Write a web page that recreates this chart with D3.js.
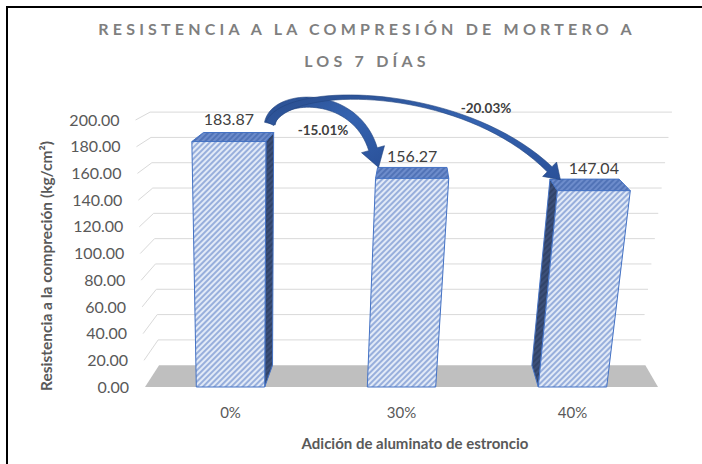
<!DOCTYPE html>
<html>
<head>
<meta charset="utf-8">
<script src="https://cdn.jsdelivr.net/npm/d3@7"></script>
<style>
  html, body { margin: 0; padding: 0; background: #fff; }
</style>
</head>
<body>
<div id="chart"></div>
<script>
const categories = ["0%", "30%", "40%"];
const values = [183.87, 156.27, 147.04];
const yTicks = [0, 20, 40, 60, 80, 100, 120, 140, 160, 180, 200];
const changes = [
  { from: 0, to: 1, label: "-15.01%" },
  { from: 0, to: 2, label: "-20.03%" }
];

function drawChart() {
  const width = 702;
  const height = 464;
  const fontFamily = "Lato, 'Open Sans', sans-serif";
  const textColor = "#595959";
  const labelColor = "#404040";

  // pseudo 3D: front plane leans a bit, back plane pulled toward a vanishing point
  const vp = [415, -32];
  const depthK = 0.948;
  const lean = 0.09;
  const leanCx = 250;

  const y = d3.scaleLinear().domain([0, 200]).range([387, 120]);
  const x = d3.scaleBand().domain(categories).range([145, 658])
    .paddingInner(0.6).paddingOuter(0.3);

  function proj(u, v, z) {
    const t = (y(0) - y(v)) / (y(0) - y(200));
    const fx = u + (u - leanCx) * lean * t;
    const fy = y(v);
    const s = 1 - z * (1 - depthK);
    return [vp[0] + s * (fx - vp[0]), vp[1] + s * (fy - vp[1])];
  }

  const svg = d3.select("#chart").append("svg")
    .attr("width", width)
    .attr("height", height)
    .style("font-family", fontFamily);

  const defs = svg.append("defs");
  function hatch(id, bg, line) {
    const p = defs.append("pattern")
      .attr("id", id)
      .attr("patternUnits", "userSpaceOnUse")
      .attr("width", 4).attr("height", 4)
      .attr("patternTransform", "rotate(45)");
    p.append("rect").attr("width", 4).attr("height", 4).attr("fill", bg);
    p.append("line").attr("x1", 1).attr("y1", 0).attr("x2", 1).attr("y2", 4)
      .attr("stroke", line).attr("stroke-width", 1.1);
  }
  hatch("hFront", "#e2eaf7", "#5b7fc6");
  hatch("hTop", "#6d8ccb", "#3a5ea6");
  hatch("hSide", "#3d5079", "#27375a");

  const grad = defs.append("linearGradient").attr("id", "arrowGrad")
    .attr("x1", 0).attr("y1", 0).attr("x2", 1).attr("y2", 1);
  grad.append("stop").attr("offset", "0%").attr("stop-color", "#2a4e8f");
  grad.append("stop").attr("offset", "50%").attr("stop-color", "#3563b0");
  grad.append("stop").attr("offset", "100%").attr("stop-color", "#2a5199");

  // frame (only top and left edges show)
  svg.append("path")
    .attr("d", `M7,${height}V7H${width}`)
    .attr("fill", "none")
    .attr("stroke", "#000")
    .attr("stroke-width", 2);

  // Title
  const title = svg.append("text")
    .attr("text-anchor", "middle")
    .attr("fill", "#7f7f7f")
    .attr("font-size", 16)
    .attr("font-weight", "bold")
    .attr("letter-spacing", 4.2);
  title.append("tspan").attr("x", 367).attr("y", 35).text("RESISTENCIA A LA COMPRESIÓN DE MORTERO A");
  title.append("tspan").attr("x", 367).attr("y", 67).text("LOS 7 DÍAS");

  // Gridlines: side wall + back wall
  const line = d3.line();
  svg.append("g")
    .selectAll("path")
    .data(yTicks.filter(d => d > 0))
    .join("path")
    .attr("d", d => line([proj(145, d, 0), proj(145, d, 1), proj(650, d, 1)]))
    .attr("fill", "none")
    .attr("stroke", "#d9d9d9")
    .attr("stroke-width", 1);

  // Floor
  svg.append("path")
    .attr("d", line([proj(145, 0, 0), proj(658, 0, 0), proj(658, 0, 1), proj(145, 0, 1)]) + "Z")
    .attr("fill", "#bfbfbf");

  // Y tick labels
  svg.append("g")
    .selectAll("text")
    .data(yTicks)
    .join("text")
    .attr("x", d => proj(145, d, 0)[0] - 16)
    .attr("y", d => y(d))
    .attr("dy", "0.35em")
    .attr("text-anchor", "end")
    .attr("font-size", 16)
    .attr("fill", textColor)
    .text(d => d.toFixed(2));

  // Bars
  const bars = categories.map((c, i) => ({ cat: c, value: values[i], u0: x(c), u1: x(c) + x.bandwidth() }));
  const barG = svg.append("g").attr("stroke", "#4472c4").attr("stroke-width", 1).attr("stroke-linejoin", "round");
  bars.forEach(b => {
    const v = b.value;
    if (proj(b.u1, 0, 0)[0] < vp[0]) {
      barG.append("path")
        .attr("d", line([proj(b.u1, 0, 0), proj(b.u1, 0, 1), proj(b.u1, v, 1), proj(b.u1, v, 0)]) + "Z")
        .attr("fill", "url(#hSide)");
    }
    if (proj(b.u0, 0, 0)[0] > vp[0]) {
      barG.append("path")
        .attr("d", line([proj(b.u0, 0, 0), proj(b.u0, 0, 1), proj(b.u0, v, 1), proj(b.u0, v, 0)]) + "Z")
        .attr("fill", "url(#hSide)");
    }
    barG.append("path")
      .attr("d", line([proj(b.u0, v, 0), proj(b.u1, v, 0), proj(b.u1, v, 1), proj(b.u0, v, 1)]) + "Z")
      .attr("fill", "url(#hTop)");
    barG.append("path")
      .attr("d", line([proj(b.u0, 0, 0), proj(b.u1, 0, 0), proj(b.u1, v, 0), proj(b.u0, v, 0)]) + "Z")
      .attr("fill", "url(#hFront)");
  });

  // Value labels
  svg.append("g")
    .selectAll("text")
    .data(bars)
    .join("text")
    .attr("x", d => proj((d.u0 + d.u1) / 2, d.value, 0)[0])
    .attr("y", d => proj((d.u0 + d.u1) / 2, d.value, 0)[1] - 22)
    .attr("dy", "0.35em")
    .attr("text-anchor", "middle")
    .attr("font-size", 16)
    .attr("fill", labelColor)
    .text(d => d.value.toFixed(2));

  // X tick labels
  svg.append("g")
    .selectAll("text")
    .data(bars)
    .join("text")
    .attr("x", d => proj((d.u0 + d.u1) / 2, 0, 0)[0])
    .attr("y", 413)
    .attr("dy", "0.35em")
    .attr("text-anchor", "middle")
    .attr("font-size", 15)
    .attr("fill", textColor)
    .text(d => d.cat);

  // Axis titles
  svg.append("text")
    .attr("x", 415)
    .attr("y", 444)
    .attr("dy", "0.35em")
    .attr("text-anchor", "middle")
    .attr("font-size", 15)
    .attr("font-weight", "bold")
    .attr("fill", textColor)
    .text("Adición de aluminato de estroncio");

  svg.append("text")
    .attr("transform", "translate(47,266) rotate(-90)")
    .attr("dy", "0.35em")
    .attr("text-anchor", "middle")
    .attr("font-size", 15.5)
    .attr("font-weight", "bold")
    .attr("fill", textColor)
    .text("Resistencia a la compreción (kg/cm²)");

  // Curved change arrows
  function bez(p0, c1, c2, p3, t) {
    const m = 1 - t;
    return [0, 1].map(k => m * m * m * p0[k] + 3 * m * m * t * c1[k] + 3 * m * t * t * c2[k] + t * t * t * p3[k]);
  }
  function arrowPath(p0, c1, c2, b, w, headW, headL) {
    const n = 40;
    const pts = d3.range(n + 1).map(i => bez(p0, c1, c2, b, i / n));
    const left = [], right = [];
    pts.forEach((p, i) => {
      const a = pts[Math.max(0, i - 1)], c = pts[Math.min(n, i + 1)];
      const dx = c[0] - a[0], dy = c[1] - a[1], len = Math.hypot(dx, dy);
      const nx = -dy / len, ny = dx / len;
      const t = i / n;
      const wt = w[0] * (1 - t) * (1 - 2 * t) + 4 * w[1] * t * (1 - t) + w[2] * t * (2 * t - 1);
      left.push([p[0] + nx * wt / 2, p[1] + ny * wt / 2]);
      right.push([p[0] - nx * wt / 2, p[1] - ny * wt / 2]);
    });
    const dx = b[0] - c2[0], dy = b[1] - c2[1], len = Math.hypot(dx, dy);
    const tx = dx / len, ty = dy / len, nx = -ty, ny = tx;
    const tip = [b[0] + tx * headL, b[1] + ty * headL];
    const h1 = [b[0] + nx * headW / 2, b[1] + ny * headW / 2];
    const h2 = [b[0] - nx * headW / 2, b[1] - ny * headW / 2];
    return line(left.concat([h1, tip, h2], right.reverse())) + "Z";
  }

  const arrowG = svg.append("g");
  const b0 = bars[0];
  const start = proj(b0.u1, b0.value, 0);
  const shapes = [
    { c1: [275, 93], c2: [355, 90], w: [11, 10, 9], headW: 24, headL: 19, lx: 323, ly: 130 },
    { c1: [287, 82], c2: [462, 84], w: [9, 4, 7], headW: 20, headL: 15, lx: 486, ly: 108 }
  ];
  changes.forEach((ch, i) => {
    const sh = shapes[i];
    const tb = bars[ch.to];
    const top = proj(tb.u0, tb.value, 0);
    const p0 = [start[0] + 4, start[1] - 18];
    const tip = [top[0] + 3, top[1] - 11];
    const dx = tip[0] - sh.c2[0], dy = tip[1] - sh.c2[1], len = Math.hypot(dx, dy);
    const base = [tip[0] - dx / len * sh.headL, tip[1] - dy / len * sh.headL];
    arrowG.append("path")
      .attr("d", arrowPath(p0, sh.c1, sh.c2, base, sh.w, sh.headW, sh.headL))
      .attr("fill", "url(#arrowGrad)")
      .attr("stroke", "#24457f")
      .attr("stroke-width", 0.6);
    svg.append("text")
      .attr("x", sh.lx)
      .attr("y", sh.ly)
      .attr("dy", "0.35em")
      .attr("text-anchor", "middle")
      .attr("font-size", 13.5)
      .attr("font-weight", "bold")
      .attr("fill", labelColor)
      .text(ch.label);
  });
}

drawChart();
</script>
</body>
</html>
